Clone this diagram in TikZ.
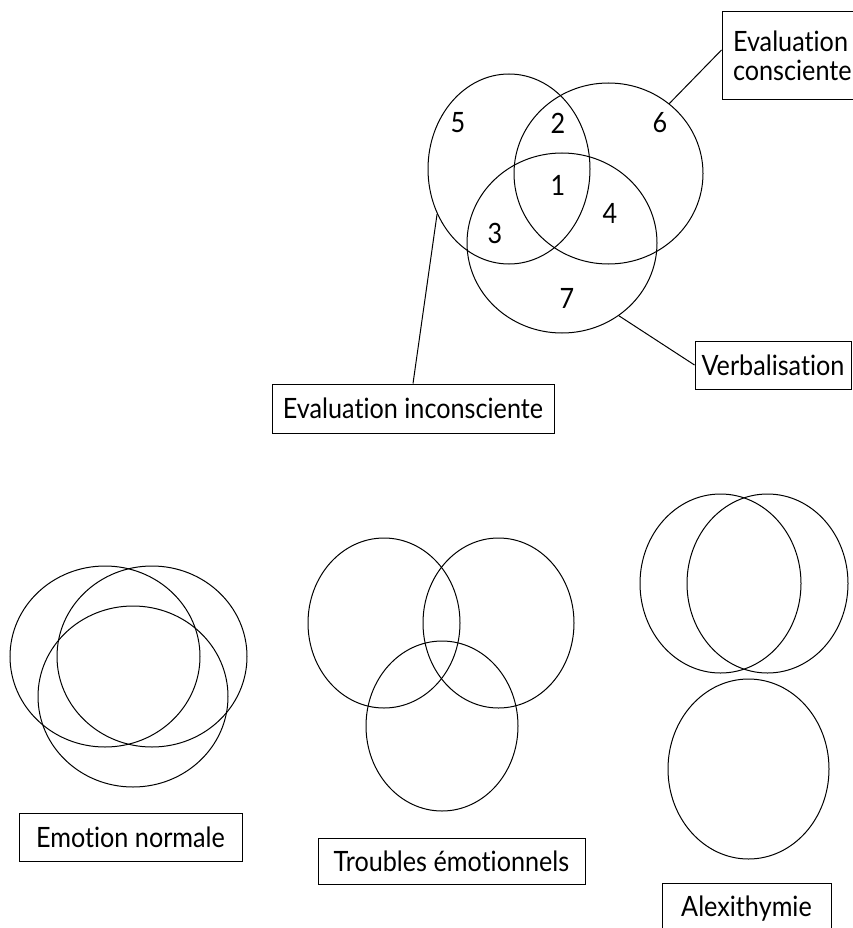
\documentclass[tikz,border=0pt]{standalone}
\usepackage{fontspec}
\setmainfont{Lato}[FakeStretch=0.9,Ligatures=NoCommon]
\usetikzlibrary{shapes.geometric}
\begin{document}
\begin{tikzpicture}[x=1pt,y=-1pt,line width=1pt,
  venn/.style n args={2}{ellipse,draw,inner sep=0pt,minimum width=#1,minimum height=#2},
  lbl/.style={font=\fontsize{28}{29}\selectfont},
  num/.style={lbl,inner sep=0pt},
  box/.style={lbl,draw,inner sep=0pt,text height=20pt,text depth=0pt,minimum width=#1},
  box/.default=10pt,
  conn/.style={line width=1pt}]
\useasboundingbox (0,0) rectangle (852,928);
% top Venn
\node[venn={162}{190}] (A) at (509,169) {};
\node[venn={189}{181}] (B) at (608.5,173.5) {};
\node[venn={190}{180}] (C) at (562,243) {};
\node[num] (n1) at (558,185) {1};
\node[num] (n2) at (558,123) {2};
\node[num] (n3) at (495,233) {3};
\node[num] (n4) at (610,213) {4};
\node[num] (n5) at (458,123) {5};
\node[num] (n6) at (660,123) {6};
\node[num] (n7) at (567,298) {7};
% labels
\node[lbl,draw,inner sep=0pt,align=left,minimum width=140pt,minimum height=88pt,text width=118pt] (EC) at (792,56) {Evaluation\\consciente};
\node[box=156pt,minimum height=48pt] (V) at (773,365) {Verbalisation};
\node[box=282pt,minimum height=49pt] (EI) at (413,408.5) {Evaluation inconsciente};
\draw[conn] ([yshift=6pt]EC.west) -- (B.49);
\draw[conn] (C.308) -- (V.west);
\draw[conn] (A.212) -- (EI.north);
% Emotion normale
\node[venn={190}{181}] (EN1) at (105,656.5) {};
\node[venn={190}{181}] (EN2) at (152,656.5) {};
\node[venn={190}{181}] (EN3) at (133,696.5) {};
\node[box=223pt,minimum height=48pt] (EN) at (130.5,837) {Emotion normale};
% Troubles
\node[venn={152}{170}] (TE1) at (384,623) {};
\node[venn={151}{170}] (TE2) at (498.5,623) {};
\node[venn={152}{170}] (TE3) at (442,726) {};
\node[box=267pt,minimum height=46pt] (TE) at (451.5,861) {Troubles émotionnels};
% Alexithymie
\node[venn={161}{179}] (AL1) at (720.5,583.5) {};
\node[venn={161}{179}] (AL2) at (767.5,583.5) {};
\node[venn={161}{180}] (AL3) at (748.5,769) {};
\node[box=169pt,minimum height=46pt] (AL) at (746.5,906) {Alexithymie};
\end{tikzpicture}
\end{document}
